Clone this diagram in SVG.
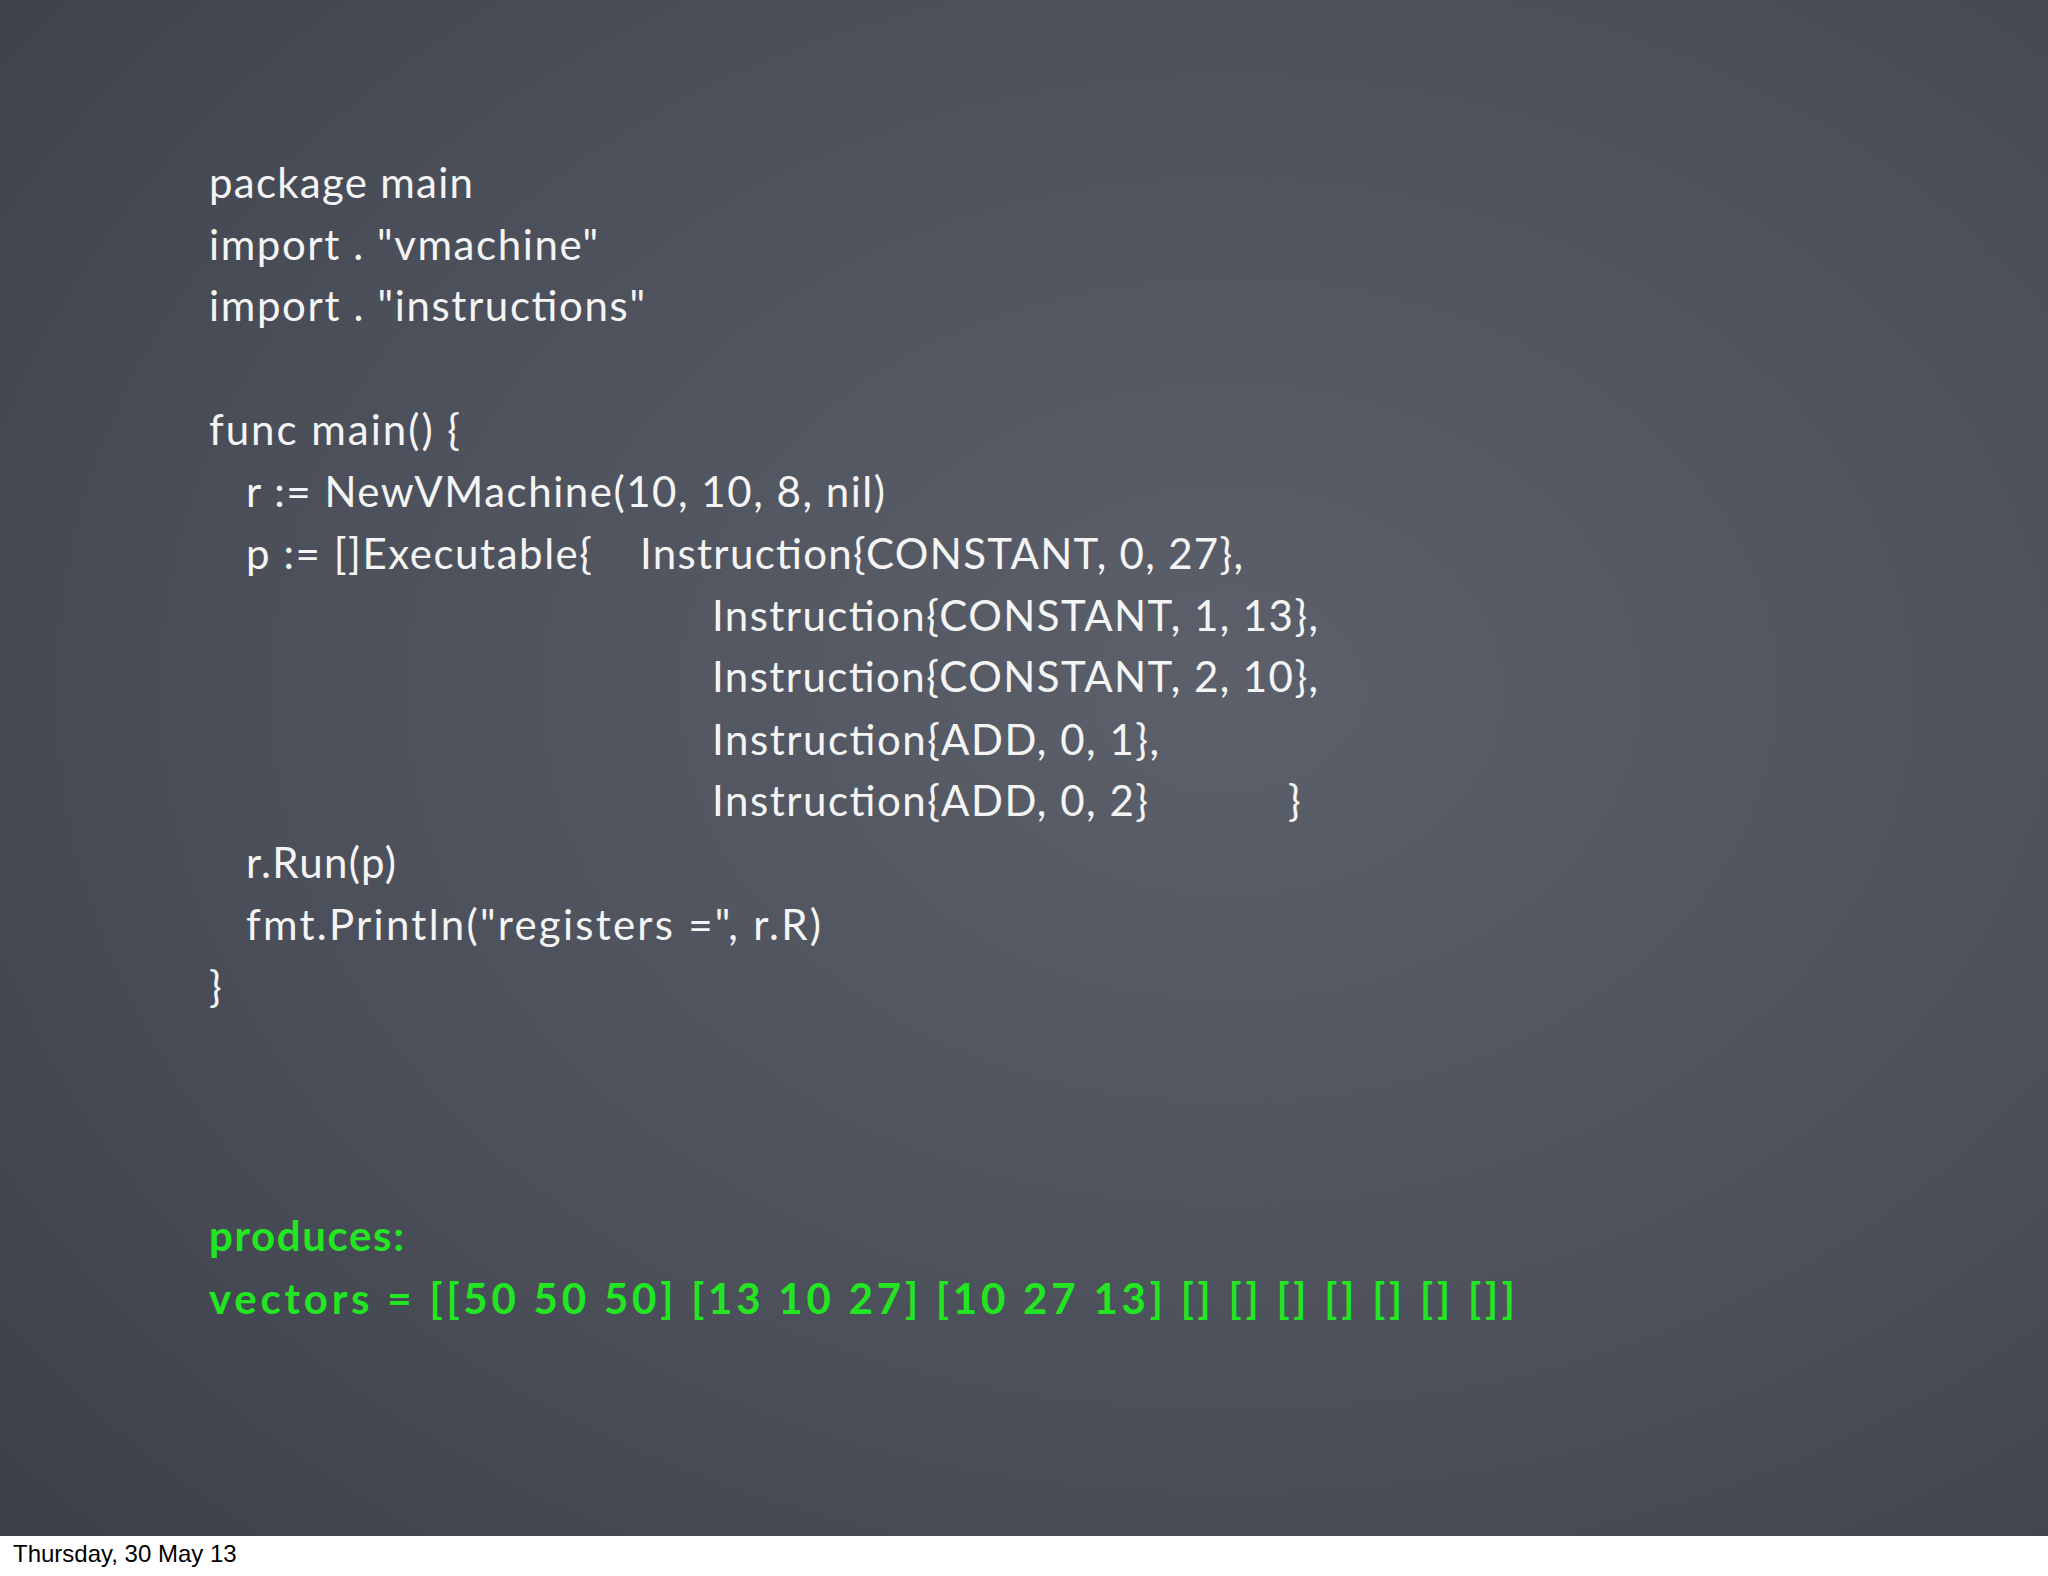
<svg xmlns="http://www.w3.org/2000/svg" width="2048" height="1576" viewBox="0 0 2048 1576">
<defs>
<radialGradient id="bg" cx="0.6" cy="0.45" r="0.8">
<stop offset="0" stop-color="#5c606b"/>
<stop offset="0.6" stop-color="#4b4f5a"/>
<stop offset="1" stop-color="#3c4049"/>
</radialGradient>
<style>
.c{font-family:Lato,"Open Sans",sans-serif;font-size:42px;fill:#f4f4f4}
.g{font-family:Lato,"Open Sans",sans-serif;font-size:42px;fill:#22e622;font-weight:bold}
.f{font-family:"Liberation Sans",Arial,sans-serif;font-size:24px;fill:#000}
</style>
</defs>
<rect width="2048" height="1576" fill="#fff"/>
<rect width="2048" height="1536" fill="url(#bg)"/>
<g id="code">
<text class="c" x="209" y="198" textLength="264" lengthAdjust="spacing">package main</text>
<text class="c" x="209" y="260" textLength="389" lengthAdjust="spacing">import . "vmachine"</text>
<text class="c" x="209" y="321" textLength="436" lengthAdjust="spacing">import . "instructions"</text>
<text class="c" x="209" y="445" textLength="251" lengthAdjust="spacing">func main() {</text>
<text class="c" x="246" y="507" textLength="639" lengthAdjust="spacing">r := NewVMachine(10, 10, 8, nil)</text>
<text class="c" x="246" y="569" textLength="346" lengthAdjust="spacing">p := []Executable{</text>
<text class="c" x="640" y="569" textLength="603" lengthAdjust="spacing">Instruction{CONSTANT, 0, 27},</text>
<text class="c" x="712" y="631" textLength="606" lengthAdjust="spacing">Instruction{CONSTANT, 1, 13},</text>
<text class="c" x="712" y="692" textLength="606" lengthAdjust="spacing">Instruction{CONSTANT, 2, 10},</text>
<text class="c" x="712" y="755" textLength="447" lengthAdjust="spacing">Instruction{ADD, 0, 1},</text>
<text class="c" x="712" y="816" textLength="436" lengthAdjust="spacing">Instruction{ADD, 0, 2}</text>
<text class="c" x="1288" y="816">}</text>
<text class="c" x="246" y="878" textLength="150" lengthAdjust="spacing">r.Run(p)</text>
<text class="c" x="246" y="940" textLength="575" lengthAdjust="spacing">fmt.Println("registers =", r.R)</text>
<text class="c" x="209" y="1002">}</text>
</g>
<g id="output">
<text class="g" x="209" y="1251" textLength="195" lengthAdjust="spacing">produces:</text>
<text class="g" x="209" y="1314" textLength="1306" lengthAdjust="spacing">vectors = [[50 50 50] [13 10 27] [10 27 13] [] [] [] [] [] [] []]</text>
</g>
<text class="f" x="13" y="1562">Thursday, 30 May 13</text>
</svg>
